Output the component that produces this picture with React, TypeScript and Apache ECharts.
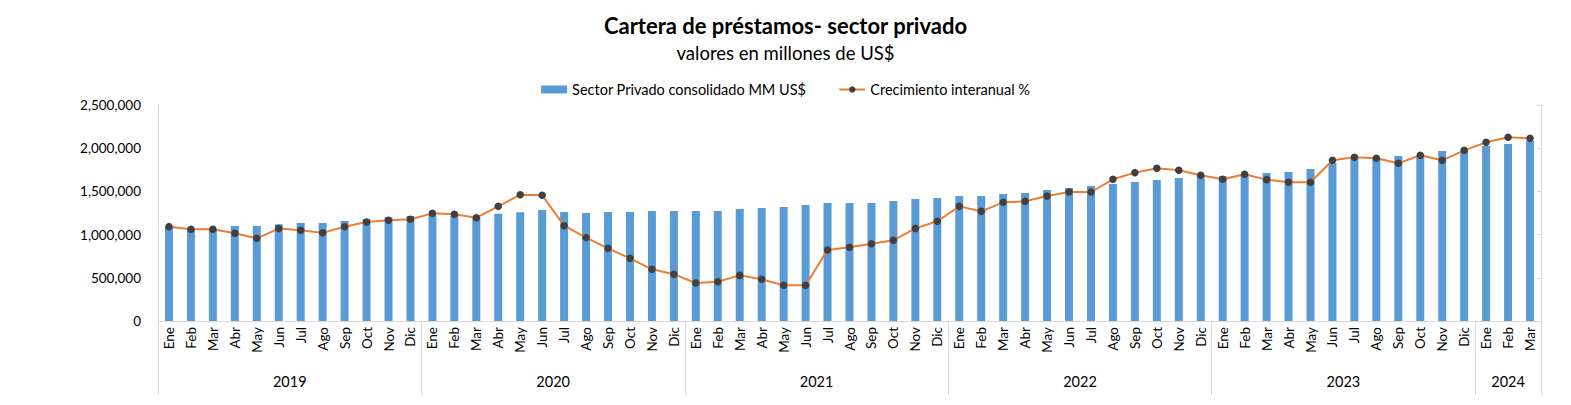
import React, { useEffect, useRef } from "react";
import * as echarts from "echarts";

const monthNames = ["Ene", "Feb", "Mar", "Abr", "May", "Jun", "Jul", "Ago", "Sep", "Oct", "Nov", "Dic"];
const years = ["2019", "2020", "2021", "2022", "2023", "2024"];
const monthsPerYear = [12, 12, 12, 12, 12, 3];

const carteraMM = [
  1090000, 1070000, 1070000, 1100000, 1100000, 1120000, 1134000, 1134000, 1157000, 1180000, 1200000, 1215000,
  1230000, 1220000, 1210000, 1240000, 1260000, 1285000, 1262000, 1250000, 1262000, 1262000, 1273000, 1273000,
  1273000, 1273000, 1296000, 1308000, 1320000, 1343000, 1366000, 1366000, 1366000, 1389000, 1412000, 1424000,
  1447000, 1447000, 1470000, 1481000, 1516000, 1539000, 1562000, 1586000, 1609000, 1632000, 1655000, 1678000,
  1678000, 1690000, 1713000, 1725000, 1760000, 1829000, 1883000, 1883000, 1910000, 1920000, 1968000, 1960000,
  2026000, 2049000, 2083000,
];

const crecimiento = [
  1092000, 1062000, 1062000, 1015000, 957000, 1070000, 1050000, 1020000, 1090000, 1146000, 1165000, 1177000,
  1246000, 1235000, 1196000, 1327000, 1462000, 1455000, 1103000, 965000, 841000, 725000, 598000, 540000,
  440000, 455000, 528000, 482000, 413000, 413000, 822000, 853000, 895000, 934000, 1072000, 1154000,
  1327000, 1269000, 1373000, 1385000, 1447000, 1493000, 1493000, 1640000, 1717000, 1767000, 1744000, 1686000,
  1640000, 1698000, 1636000, 1605000, 1605000, 1860000, 1894000, 1883000, 1825000, 1918000, 1860000, 1975000,
  2068000, 2126000, 2114000,
];

const yTicks = [0, 500000, 1000000, 1500000, 2000000, 2500000];

export default function App() {
  const ref = useRef<HTMLDivElement>(null);
  useEffect(() => {
    if (!ref.current) return;
    const chart = echarts.init(ref.current, null, { renderer: "svg" });

    const categories: string[] = [];
    monthsPerYear.forEach((n) => {
      for (let i = 0; i < n; i++) categories.push(monthNames[i]);
    });
    const boundaries: number[] = [0];
    const centers: number[] = [];
    let acc = 0;
    monthsPerYear.forEach((n) => {
      centers.push(acc + n / 2);
      acc += n;
      boundaries.push(acc);
    });
    const total = acc;
    const font = "Lato, 'Open Sans', sans-serif";

    chart.setOption({
      animation: false,
      backgroundColor: "#ffffff",
      textStyle: { fontFamily: font },
      title: {
        text: "Cartera de préstamos- sector privado",
        subtext: "valores en millones de US$",
        left: "center",
        top: 1,
        itemGap: 7,
        textStyle: { fontFamily: font, fontSize: 22, fontWeight: "bold", color: "#000000" },
        subtextStyle: { fontFamily: font, fontSize: 18.5, color: "#000000" },
      },
      legend: {
        top: 69,
        left: "center",
        itemGap: 32,
        itemWidth: 26,
        itemHeight: 8,
        textStyle: { fontFamily: font, fontSize: 14.5, color: "#000000" },
        data: [
          { name: "Sector Privado consolidado MM US$", icon: "rect" },
          { name: "Crecimiento interanual %" },
        ],
      },
      grid: { left: 150, right: 22, top: 97, bottom: 84, containLabel: false },
      xAxis: [
        {
          type: "category",
          data: categories,
          position: "bottom",
          axisLine: { show: true, lineStyle: { color: "#d9d9d9" } },
          axisTick: { show: false },
          axisLabel: {
            rotate: 90,
            interval: 0,
            margin: 6,
            fontSize: 13.5,
            color: "#000000",
            fontFamily: font,
          },
        },
        {
          type: "value",
          min: 0,
          max: total,
          position: "bottom",
          axisLine: { show: false },
          splitLine: { show: false },
          axisTick: {
            show: true,
            length: 74,
            lineStyle: { color: "#d9d9d9" },
            customValues: boundaries,
          },
          axisLabel: {
            show: true,
            margin: 53,
            fontSize: 14.5,
            color: "#000000",
            fontFamily: font,
            customValues: centers,
            formatter: (v: number) => {
              const idx = centers.findIndex((c) => Math.abs(c - v) < 1e-6);
              return idx >= 0 ? years[idx] : "";
            },
          },
        },
      ],
      yAxis: [
        {
          type: "value",
          min: 0,
          max: 2500000,
          interval: 500000,
          axisLine: { show: true, lineStyle: { color: "#d9d9d9" } },
          axisTick: { show: false },
          splitLine: { show: false },
          axisLabel: {
            margin: 17,
            fontSize: 13.5,
            color: "#000000",
            fontFamily: font,
            formatter: (v: number) => (yTicks.includes(v) ? v.toLocaleString("en-US") : ""),
          },
        },
        {
          type: "value",
          min: 0,
          max: 2500000,
          interval: 500000,
          position: "right",
          axisLine: { show: true, lineStyle: { color: "#d9d9d9" } },
          axisTick: { show: true, inside: true, length: 4, lineStyle: { color: "#d9d9d9" } },
          splitLine: { show: false },
          axisLabel: { show: false },
        },
      ],
      series: [
        {
          name: "Sector Privado consolidado MM US$",
          type: "bar",
          data: carteraMM,
          barWidth: 8,
          itemStyle: { color: "#5B9BD5" },
          xAxisIndex: 0,
          yAxisIndex: 0,
        },
        {
          name: "Crecimiento interanual %",
          type: "line",
          data: crecimiento,
          xAxisIndex: 0,
          yAxisIndex: 1,
          symbol: "circle",
          symbolSize: 7.5,
          lineStyle: { color: "#ED7D31", width: 2 },
          itemStyle: { color: "#404040" },
        },
      ],
    });
    return () => chart.dispose();
  }, []);
  return <div ref={ref} style={{ width: 1555, height: 397 }} />;
}
